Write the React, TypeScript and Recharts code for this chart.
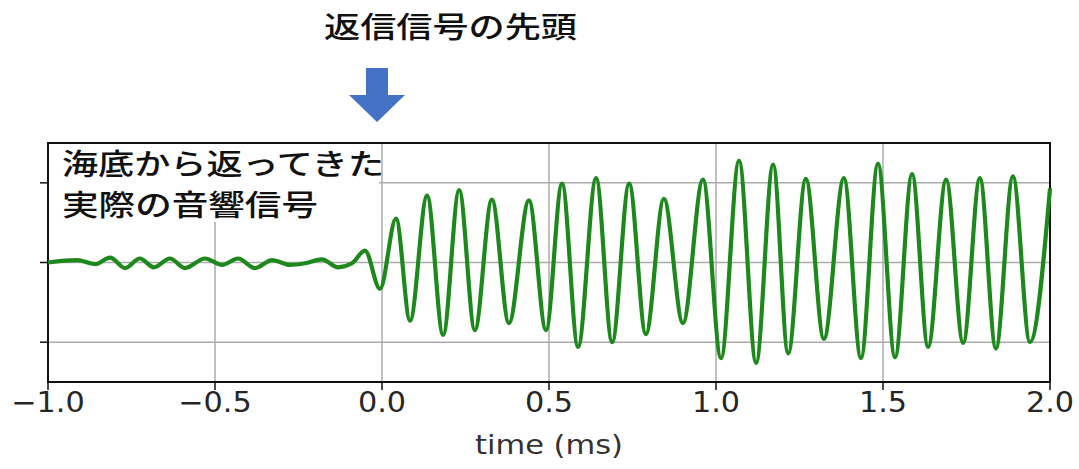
import { LineChart, Line, XAxis, YAxis, CartesianGrid, ReferenceArea } from "recharts";

// peaks / troughs of the echo (time in ms, relative amplitude)
const times = [
  -1.0, -0.913, -0.859, -0.814, -0.769, -0.725, -0.683, -0.635, -0.59, -0.53,
  -0.479, -0.431, -0.38, -0.329, -0.275, -0.231, -0.18, -0.132, -0.09, -0.051,
  -0.006, 0.042, 0.084, 0.135, 0.183, 0.231, 0.278, 0.329, 0.38, 0.44,
  0.491, 0.539, 0.587, 0.641, 0.689, 0.74, 0.79, 0.844, 0.901, 0.961,
  1.015, 1.069, 1.12, 1.171, 1.216, 1.269, 1.323, 1.383, 1.434, 1.485,
  1.536, 1.587, 1.635, 1.689, 1.74, 1.79, 1.838, 1.889, 1.94, 2.0,
];
const amplitudes = [
  0.0, 0.03, -0.02, 0.06, -0.07, 0.05, -0.06, 0.05, -0.07, 0.05,
  -0.03, 0.05, -0.07, 0.03, -0.03, -0.01, 0.04, -0.06, -0.01, 0.15,
  -0.33, 0.55, -0.73, 0.84, -0.91, 0.91, -0.85, 0.79, -0.76, 0.78,
  -0.85, 0.99, -1.06, 1.06, -1.0, 0.99, -0.9, 0.8, -0.76, 1.04,
  -1.2, 1.28, -1.26, 1.23, -1.14, 1.05, -0.96, 1.06, -1.2, 1.24,
  -1.19, 1.11, -1.06, 1.04, -1.01, 1.06, -1.08, 1.08, -1.0, 0.93,
];

const xTicks = [-1.0, -0.5, 0.0, 0.5, 1.0, 1.5, 2.0];
const yTicks = [-1, 0, 1];

const title = "返信信号の先頭";
const noteLines = ["海底から返ってきた", "実際の音響信号"];
const xLabel = "time (ms)";

const data = times.map((t, i) => ({ t, v: amplitudes[i] }));

const cjk = '"Noto Sans CJK JP", "Noto Sans CJK SC", sans-serif';
const latin = '"DejaVu Sans", sans-serif';

function XTick(props: any) {
  const { x, y, payload } = props;
  const label = payload.value < 0 ? "\u2212" + Math.abs(payload.value).toFixed(1) : payload.value.toFixed(1);
  return (
    <text
      x={x}
      y={y + 20}
      textAnchor="middle"
      fill="#262626"
      fontSize={28}
      fontFamily={latin}
      transform={`translate(${x},0) scale(1.08,1) translate(${-x},0)`}
    >
      {label}
    </text>
  );
}

function XLabel(props: any) {
  const { viewBox } = props;
  const cx = viewBox.x + viewBox.width / 2;
  return (
    <text x={cx - 74} y={454} fill="#333" fontSize={27} fontFamily={latin} textLength={148} lengthAdjust="spacingAndGlyphs">
      {xLabel}
    </text>
  );
}

export default function App() {
  return (
    <div style={{ position: "absolute", left: 0, top: 0, width: 1079, height: 469, background: "#fff" }}>
      <LineChart width={1079} height={469} data={data} margin={{ top: 143, right: 29, bottom: 0, left: 38 }}>
        <CartesianGrid stroke="#ababab" strokeWidth={1.5} />
        <XAxis
          dataKey="t"
          type="number"
          domain={[-1, 2]}
          ticks={xTicks}
          height={87}
          axisLine={false}
          tickLine={{ stroke: "#111", strokeWidth: 1.5 }}
          tickSize={8}
          tick={<XTick />}
          label={<XLabel />}
        />
        <YAxis
          type="number"
          domain={[-1.5, 1.5]}
          ticks={yTicks}
          width={10}
          axisLine={false}
          tickLine={{ stroke: "#111", strokeWidth: 1.5 }}
          tickSize={8}
          tickFormatter={() => ""}
        />
        <Line
          dataKey="v"
          type="monotone"
          stroke="#1d891d"
          strokeWidth={4.2}
          dot={false}
          isAnimationActive={false}
        />
        <ReferenceArea x1={-1} x2={2} y1={-1.5} y2={1.5} fill="none" stroke="#111" strokeWidth={2} strokeOpacity={1} fillOpacity={0} />
      </LineChart>

      {/* annotations on top of the chart */}
      <svg width={1079} height={469} style={{ position: "absolute", left: 0, top: 0, pointerEvents: "none" }}>
        <text x={324} y={38} fontSize={29} fontFamily={cjk} fontWeight={500} fill="#111" textLength={253} lengthAdjust="spacingAndGlyphs">
          {title}
        </text>
        <polygon points="366,68 388,68 388,95 405,95 377,122 349,95 366,95" fill="#4472c4" />
        <rect x={49} y={144} width={330} height={78} fill="#fff" />
        <text x={62} y={175} fontSize={29} fontFamily={cjk} fontWeight={500} fill="#111" textLength={322} lengthAdjust="spacingAndGlyphs">
          {noteLines[0]}
        </text>
        <text x={62} y={216} fontSize={29} fontFamily={cjk} fontWeight={500} fill="#111" textLength={256} lengthAdjust="spacingAndGlyphs">
          {noteLines[1]}
        </text>
      </svg>
    </div>
  );
}
